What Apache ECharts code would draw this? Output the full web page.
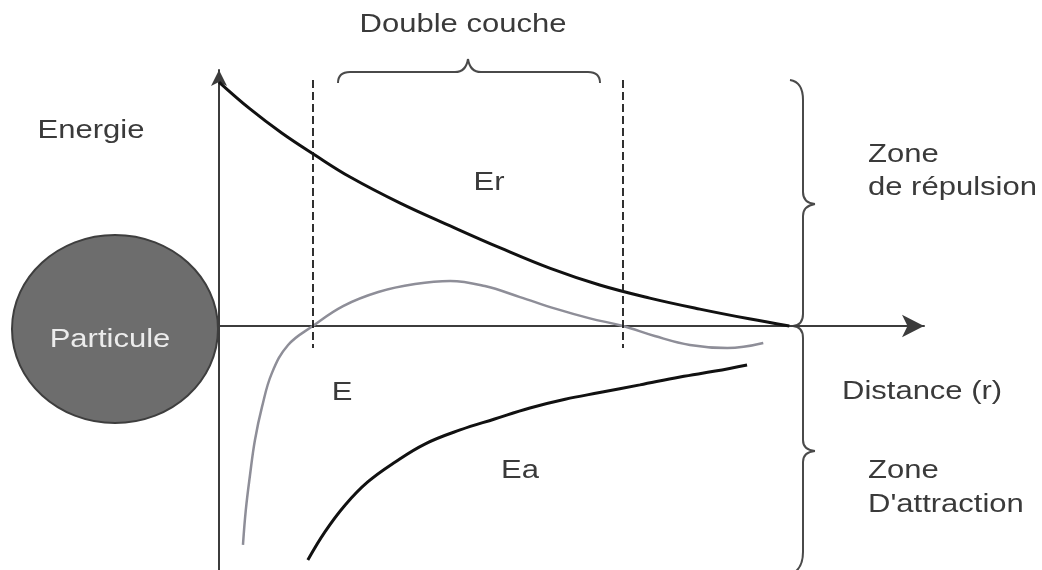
<!DOCTYPE html>
<html>
<head>
<meta charset="utf-8">
<script src="https://cdn.jsdelivr.net/npm/echarts@6/dist/echarts.min.js"></script>
<style>
  html, body { margin: 0; padding: 0; background: #fff; }
  #main { width: 1042px; height: 570px; }
</style>
</head>
<body>
<div id="main"></div>
<script>
// distance r (0..10) and energy values
var erData = [[0, 9.53], [0.44, 8.48], [0.89, 7.54], [1.36, 6.68], [1.86, 5.82], [2.57, 4.8],
  [3.28, 3.91], [3.99, 3.05], [4.7, 2.25], [5.4, 1.6], [6.11, 1.09], [6.82, 0.66], [7.52, 0.28], [8.09, 0]]
var eData = [[0.34, -8.55], [0.38, -7.19], [0.44, -5.82], [0.51, -4.45], [0.61, -3.16], [0.75, -1.84],
  [0.98, -0.74], [1.33, 0], [1.76, 0.78], [2.26, 1.33], [2.78, 1.64], [3.28, 1.76], [3.77, 1.56],
  [4.27, 1.13], [4.77, 0.68], [5.26, 0.3], [5.73, 0], [6.18, -0.39], [6.68, -0.74], [7.21, -0.86], [7.72, -0.66]]
var eaData = [[1.26, -9.14], [1.5, -8.05], [1.79, -6.99], [2.11, -6.09], [2.5, -5.31], [2.92, -4.61],
  [3.42, -4.06], [3.91, -3.63], [4.41, -3.2], [4.91, -2.86], [5.4, -2.6], [5.97, -2.3], [6.54, -1.99],
  [7.04, -1.76], [7.49, -1.52]]
// limits of the double layer
var coucheLimits = [1.33, 5.73]
var dashTop = 9.61
var dashBottom = -0.86

var chart = echarts.init(document.getElementById('main'))

var txtColor = '#3a3a3a'
var braceColor = '#4a4a4a'

function txt(str, x, y, align, color) {
    return {
        type: 'text',
        x: x,
        y: y,
        z: 10,
        scaleX: 1.24,
        style: {
            text: str,
            fill: color || txtColor,
            font: '25px "Liberation Sans", Arial, sans-serif',
            align: align || 'center',
            verticalAlign: 'middle'
        }
    }
}

function line(x1, y1, x2, y2) {
    return { type: 'line', shape: { x1: x1, y1: y1, x2: x2, y2: y2 },
        style: { stroke: braceColor, lineWidth: 2 } }
}

function curve(x1, y1, cx, cy, x2, y2) {
    return { type: 'bezierCurve', shape: { x1: x1, y1: y1, cpx1: cx, cpy1: cy, x2: x2, y2: y2 },
        style: { stroke: braceColor, lineWidth: 2, fill: null } }
}

var braces = [
    // top brace (double couche)
    curve(338, 83, 338, 72, 350, 72), line(350, 72, 455, 72),
    curve(455, 72, 466, 72, 468, 59), curve(468, 59, 470, 72, 481, 72),
    line(481, 72, 588, 72), curve(588, 72, 600, 72, 600, 83),
    // right brace (zones)
    curve(790, 80, 803, 82, 803, 100), line(803, 100, 803, 192),
    curve(803, 192, 803, 203, 815, 204), curve(815, 204, 803, 206, 803, 216),
    line(803, 216, 803, 314), curve(803, 314, 803, 325, 793, 326),
    curve(793, 326, 803, 327, 803, 338), line(803, 338, 803, 440),
    curve(803, 440, 803, 450, 815, 451), curve(815, 451, 803, 452, 803, 462),
    line(803, 462, 803, 552), curve(803, 552, 803, 566, 795, 572)
]

var option = {
    backgroundColor: '#fff',
    animation: false,
    grid: { left: 219, right: 118, top: 70, bottom: 0 },
    xAxis: {
        type: 'value',
        min: 0,
        max: 10,
        axisLine: { show: true, symbol: ['none', 'arrow'], symbolSize: [17, 22],
            lineStyle: { color: '#3c3c3c', width: 2 } },
        axisTick: { show: false },
        axisLabel: { show: false },
        splitLine: { show: false }
    },
    yAxis: {
        type: 'value',
        min: -9.53,
        max: 10,
        axisLine: { show: true, symbol: ['none', 'arrow'], symbolSize: [12, 16],
            lineStyle: { color: '#3c3c3c', width: 2 } },
        axisTick: { show: false },
        axisLabel: { show: false },
        splitLine: { show: false }
    },
    series: [{
        name: 'Er',
        type: 'line',
        data: erData,
        smooth: 0.4,
        symbol: 'none',
        lineStyle: { color: '#111', width: 3 },
        markLine: {
            silent: true,
            symbol: 'none',
            label: { show: false },
            lineStyle: { color: '#1a1a1a', width: 1.8, type: [8, 4] },
            data: coucheLimits.map(function(x) {
                return [{ coord: [x, dashTop] }, { coord: [x, dashBottom] }]
            })
        }
    }, {
        name: 'E',
        type: 'line',
        data: eData,
        smooth: 0.4,
        symbol: 'none',
        lineStyle: { color: '#8e8e98', width: 2.5 }
    }, {
        name: 'Ea',
        type: 'line',
        data: eaData,
        smooth: 0.4,
        symbol: 'none',
        lineStyle: { color: '#111', width: 3 }
    }],
    graphic: [{
        type: 'ellipse',
        shape: { cx: 115, cy: 329, rx: 103, ry: 94 },
        style: { fill: '#6d6d6d', stroke: '#3e3e3e', lineWidth: 2 },
        z: 2
    },
        txt('Particule', 110, 340, 'center', '#ececec'),
        txt('Energie', 91, 131),
        txt('Double couche', 463, 25),
        txt('Er', 489, 183),
        txt('E', 342, 393),
        txt('Ea', 520, 471),
        txt('Zone', 868, 155, 'left'),
        txt('de répulsion', 868, 188, 'left'),
        txt('Distance (r)', 842, 392, 'left'),
        txt('Zone', 868, 471, 'left'),
        txt("D'attraction", 868, 505, 'left')
    ].concat(braces)
}

chart.setOption(option)
</script>
</body>
</html>
